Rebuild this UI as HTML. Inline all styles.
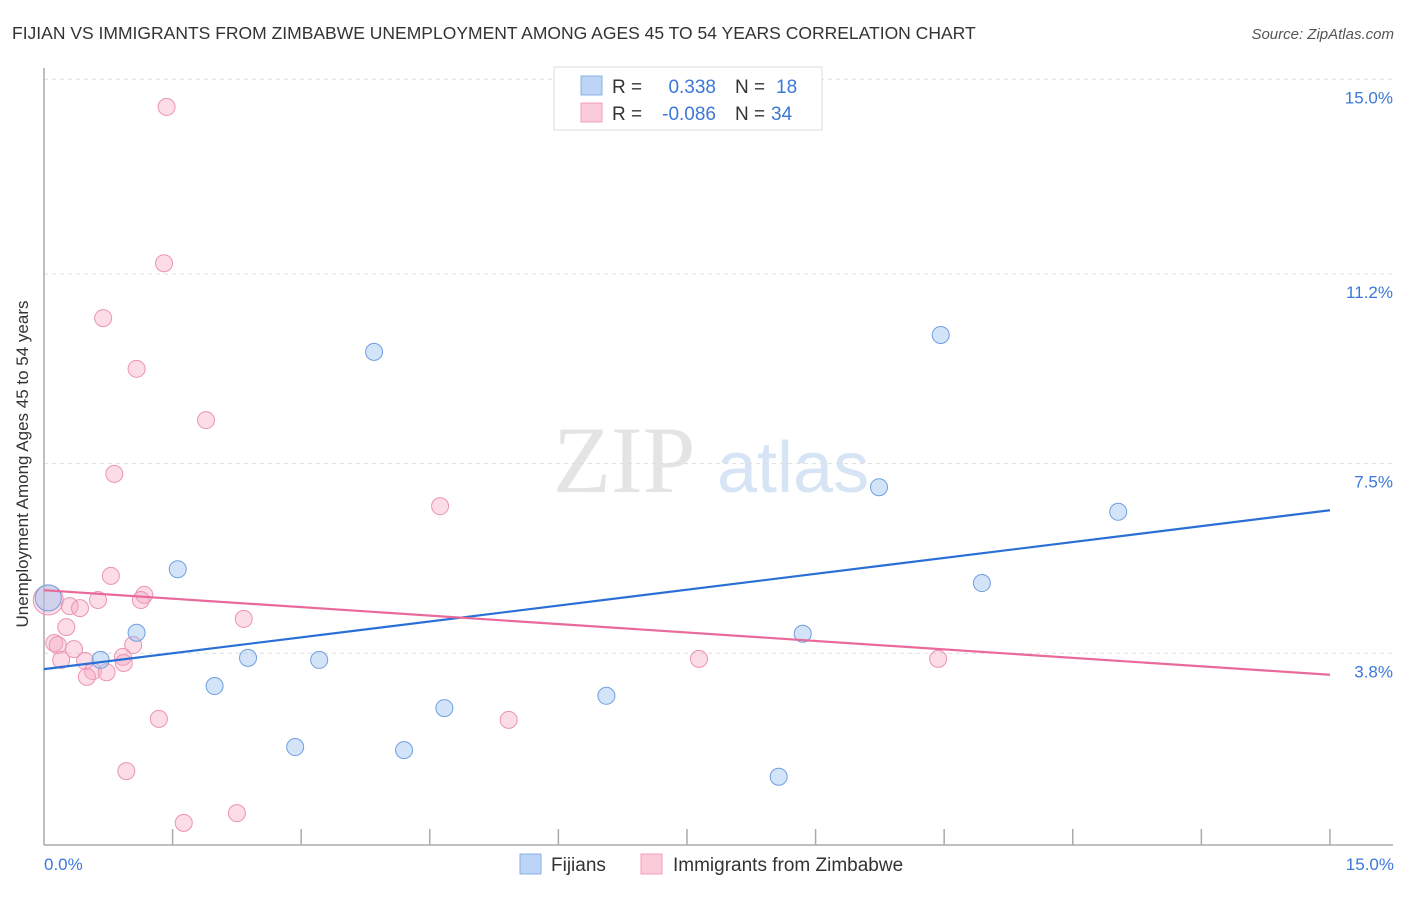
<!DOCTYPE html>
<html><head><meta charset="utf-8"><style>
body{margin:0;background:#fff;font-family:"Liberation Sans",sans-serif;}
</style></head><body>
<svg width="1406" height="892" xmlns="http://www.w3.org/2000/svg" font-family="Liberation Sans, sans-serif">
<text x="12" y="39" font-size="17.5" fill="#333">FIJIAN VS IMMIGRANTS FROM ZIMBABWE UNEMPLOYMENT AMONG AGES 45 TO 54 YEARS CORRELATION CHART</text>
<text x="1394" y="39" font-size="15" fill="#555" font-style="italic" text-anchor="end">Source: ZipAtlas.com</text>
<g>
<text x="553" y="492" font-size="95" font-family="Liberation Serif, serif" fill="#e4e4e4">ZIP</text>
<text x="717" y="492" font-size="72" fill="#d6e4f5">atlas</text>
</g>
<g id="grid"></g>
<line x1="44" y1="68" x2="44" y2="845" stroke="#aaa" stroke-width="1.5"/>
<line x1="44" y1="845" x2="1393" y2="845" stroke="#aaa" stroke-width="1.5"/>
<g id="xticks"></g>
<g id="points"></g>
<g id="lines"></g>
<text x="20" y="456" font-size="17" fill="#333" text-anchor="middle" transform="rotate(-90 28 456)">Unemployment Among Ages 45 to 54 years</text>
<text x="44" y="870" font-size="17" fill="#3b78d8">0.0%</text>
<text x="1394" y="870" font-size="17" fill="#3b78d8" text-anchor="end">15.0%</text>
<g>
<rect x="554" y="67" width="268" height="63" fill="#fff" stroke="#ddd"/>
<rect x="581" y="76" width="21" height="19" fill="#bcd4f5" stroke="#8ab0e8"/>
<rect x="581" y="103" width="21" height="19" fill="#fbcbd9" stroke="#f0a0bb"/>
<text x="612" y="93" font-size="19" fill="#333">R =</text>
<text x="716" y="93" font-size="19" fill="#3b78d8" text-anchor="end">0.338</text>
<text x="735" y="93" font-size="19" fill="#333">N =</text>
<text x="776" y="93" font-size="19" fill="#3b78d8">18</text>
<text x="612" y="120" font-size="19" fill="#333">R =</text>
<text x="716" y="120" font-size="19" fill="#3b78d8" text-anchor="end">-0.086</text>
<text x="735" y="120" font-size="19" fill="#333">N =</text>
<text x="771" y="120" font-size="19" fill="#3b78d8">34</text>
</g>
<g>
<rect x="520" y="854" width="21" height="20" fill="#bcd4f5" stroke="#8ab0e8"/>
<text x="551" y="871" font-size="19" fill="#333">Fijians</text>
<rect x="641" y="854" width="21" height="20" fill="#fbcbd9" stroke="#f0a0bb"/>
<text x="673" y="871" font-size="19" fill="#333">Immigrants from Zimbabwe</text>
</g>
</svg>
<script>
const yTicks=[15.0,11.2,7.5,3.8];
const yTickLabels=["15.0%","11.2%","7.5%","3.8%"];
const fijiX=[0.05,0.66,1.08,1.56,1.99,2.38,2.93,3.21,3.85,4.20,4.67,6.56,8.57,8.85,9.74,10.46,10.94,12.53];
const fijiY=[4.88,3.67,4.20,5.44,3.16,3.71,1.97,3.67,9.68,1.91,2.73,2.97,1.39,4.18,7.04,10.01,5.17,6.56];
const zimX=[0.05,1.43,1.40,0.69,1.08,1.89,0.82,4.62,0.78,1.17,1.13,0.63,0.30,0.42,2.33,0.26,0.12,0.16,0.35,0.20,0.48,0.57,0.73,0.50,0.92,0.93,1.04,7.64,10.43,1.34,5.42,0.96,2.25,1.63];
const zimY=[4.84,14.46,11.41,10.34,9.35,8.35,7.30,6.67,5.31,4.94,4.84,4.84,4.72,4.68,4.47,4.31,4.00,3.96,3.88,3.67,3.65,3.45,3.43,3.34,3.73,3.61,3.96,3.69,3.69,2.52,2.50,1.50,0.68,0.49];
const fijiTrend=[3.49,6.59];
const zimTrend=[5.03,3.38];
const trendX=[0,15];
const NS="http://www.w3.org/2000/svg";
const xs=v=>44+v*85.73;
const ys=v=>848-v*51.25;
function mk(tag,attrs,parent){const e=document.createElementNS(NS,tag);for(const k in attrs)e.setAttribute(k,attrs[k]);parent.appendChild(e);return e;}
const grid=document.getElementById('grid');
yTicks.forEach((t,i)=>{
 const l=mk('line',{x1:44,x2:1393,y1:ys(t),y2:ys(t),stroke:'#ddd','stroke-dasharray':'4,4'},grid);
 
 
 const tx=mk('text',{x:1393,y:ys(t)+24,'font-size':17,fill:'#3b78d8','text-anchor':'end'},grid);
 tx.textContent=yTickLabels[i];
 
 
});
const xt=document.getElementById('xticks');
for(let i=1;i<=10;i++){
 const l=mk('line',{x1:xs(i*1.5),x2:xs(i*1.5),y1:829,y2:845,stroke:'#aaa','stroke-width':1.5},xt);
 
 
}
const pts=document.getElementById('points');
zimX.forEach((x,i)=>{
 const c=mk('circle',{cx:xs(x),cy:ys(zimY[i]),r:i===0?15:8.5,fill:'rgba(246,168,196,0.4)',stroke:'#eb94b3','stroke-width':1},pts);
 
 
});
fijiX.forEach((x,i)=>{
 const c=mk('circle',{cx:xs(x),cy:ys(fijiY[i]),r:i===0?13:8.5,fill:'rgba(160,195,240,0.45)',stroke:'#6f9fe0','stroke-width':1},pts);
 
 
});
const ln=document.getElementById('lines');
const a=mk('line',{x1:xs(trendX[0]),y1:ys(fijiTrend[0]),x2:xs(trendX[1]),y2:ys(fijiTrend[1]),stroke:'#2a6fd6','stroke-width':2.2},ln);


const b=mk('line',{x1:xs(trendX[0]),y1:ys(zimTrend[0]),x2:xs(trendX[1]),y2:ys(zimTrend[1]),stroke:'#e8699a','stroke-width':2.2},ln);


</script>
</body></html>
